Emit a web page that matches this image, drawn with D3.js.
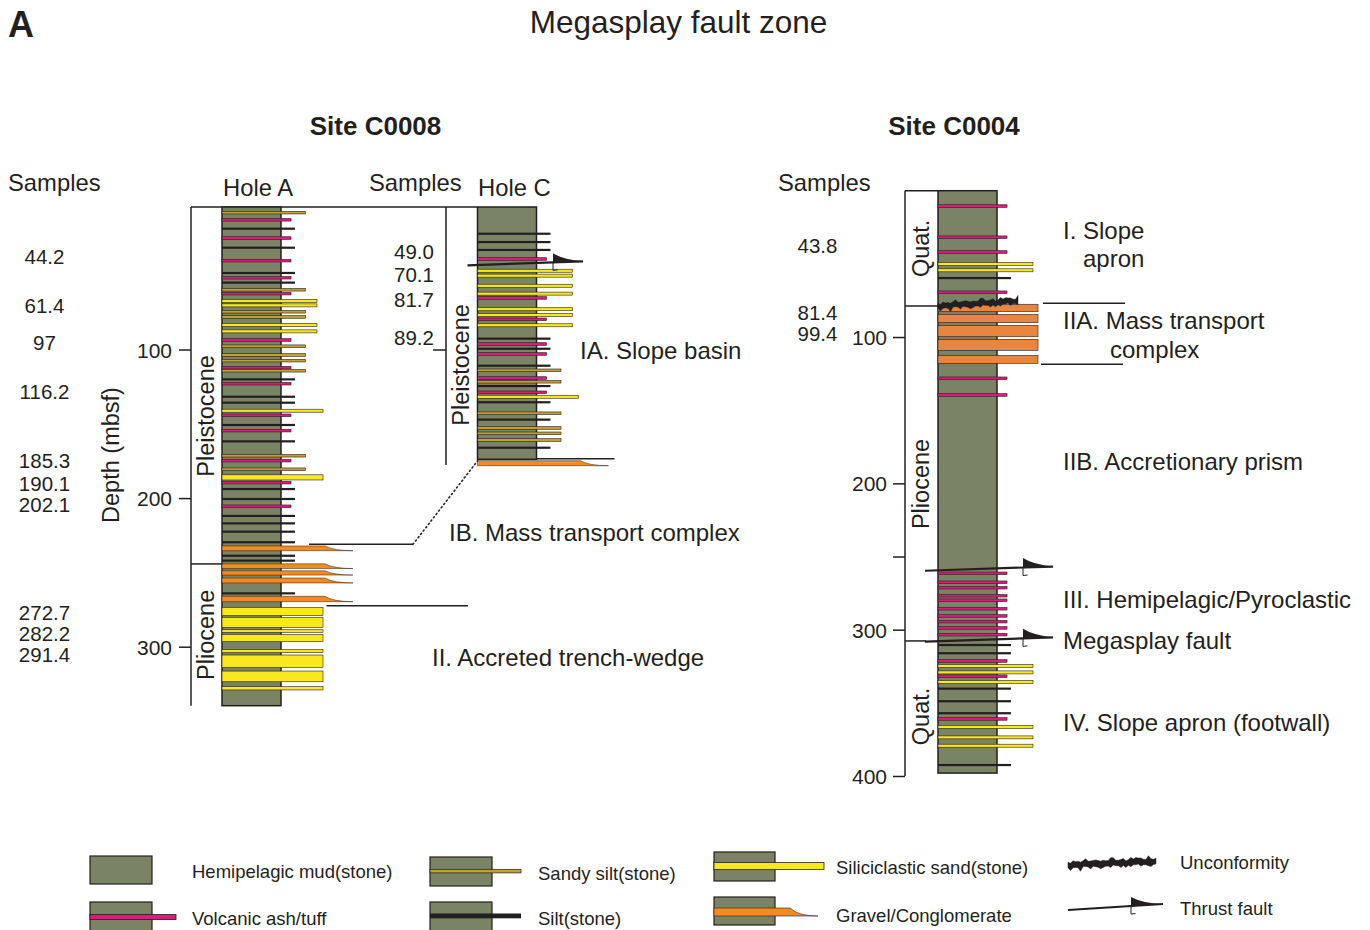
<!DOCTYPE html>
<html>
<head>
<meta charset="utf-8">
<script src="https://cdn.jsdelivr.net/npm/d3@7"></script>
<style>
  body { margin: 0; background: #fff; }
  svg { display: block; }
  text { font-family: "Liberation Sans", Arial, Helvetica, sans-serif; fill: #231f20; }
</style>
</head>
<body>
<script>
// ---------------------------------------------------------------------------
// Lithologic columns, Megasplay fault zone (Sites C0008 and C0004)
// Thin beds: [depth m, lithology]; thick beds: [top m, base m, lithology]
// ---------------------------------------------------------------------------
const holeA_interval = [4.1, 339.7];
const holeA_beds = [
  [7.9, 'sandySilt'], [12.7, 'ash'], [18.7, 'silt'], [25.0, 'ash'], [31.5, 'silt'],
  [40.2, 'ash'], [48.5, 'silt'], [51.7, 'ash'], [55.0, 'silt'], [59.8, 'sandySilt'],
  [62.4, 'ash'], [67.4, 'sand'], [70.3, 'sand'], [74.6, 'sandySilt'], [78.1, 'sandySilt'],
  [83.5, 'sand'], [87.8, 'sand'], [93.6, 'ash'], [97.8, 'sandySilt'], [103.7, 'sandySilt'],
  [107.5, 'sandySilt'], [112.2, 'ash'], [114.3, 'sandySilt'], [120.1, 'silt'], [123.0, 'ash'],
  [131.8, 'silt'], [135.8, 'silt'], [141.2, 'sandCoarse'], [144.3, 'ash'], [150.8, 'silt'],
  [154.6, 'ash'], [161.8, 'silt'], [171.5, 'sandySilt'], [174.8, 'ash'], [180.6, 'sandySilt'],
  [184.3, 187.8, 'sandCoarse'], [189.6, 'ash'], [193.9, 'silt'], [200.6, 'silt'], [205.5, 'ash'],
  [212.0, 'silt'], [217.0, 'silt'], [222.6, 'silt'], [229.7, 'silt'],
  [232.2, 235.4, 'gravel'], [238.8, 'silt'], [242.1, 'silt'],
  [244.2, 247.4, 'gravel'], [248.9, 251.8, 'gravel'], [253.8, 257.1, 'gravel'],
  [264.1, 'silt'], [266.1, 269.7, 'gravel'],
  [273.5, 279.1, 'sandCoarse'], [280.2, 287.0, 'sandCoarse'], [288.6, 290.3, 'sandCoarse'],
  [291.7, 296.6, 'sandCoarse'], [302.0, 304.0, 'sandCoarse'], [305.6, 313.9, 'sandCoarse'],
  [316.4, 323.6, 'sandCoarse'], [326.9, 329.1, 'sandCoarse']
];

const holeC_interval = [4.1, 173.9];
const holeC_beds = [
  [22.1, 'silt'], [27.7, 'silt'], [33.0, 'silt'], [39.1, 'ash'], [47.0, 'sand'],
  [50.3, 'sand'], [57.1, 'sand'], [62.4, 'sand'], [65.3, 'ash'], [72.9, 'sand'],
  [76.8, 'sand'], [79.7, 'ash'], [83.7, 'sand'], [92.7, 'silt'], [96.3, 'ash'],
  [99.5, 'silt'], [103.0, 'ash'], [110.9, 'silt'], [114.0, 'sandySilt'], [119.2, 'ash'],
  [121.7, 'sandySilt'], [124.6, 'silt'], [128.8, 'ash'], [131.8, 'sandCoarse'], [135.5, 'silt'],
  [142.9, 'sandySilt'], [147.2, 'silt'], [152.8, 'sandySilt'], [156.4, 'sandySilt'],
  [160.9, 'sandySilt'], [166.1, 'silt'], [174.8, 178.2, 'gravel']
];

const c0004_interval = [0, 398];
const c0004_beds = [
  [10.5, 'ash'], [31.8, 'ash'], [41.9, 'ash'], [50.1, 'sand'], [54.4, 'sand'],
  [59.7, 'silt'], [69.4, 'ash'],
  [77.6, 82.7, 'mtc'], [84.5, 90.2, 'mtc'], [92.0, 99.8, 'mtc'], [101.6, 109.1, 'mtc'], [112.5, 118.0, 'mtc'],
  [128.2, 'ash'], [139.6, 'ash'],
  [261.5, 'ash'], [267.6, 'ash'], [271.3, 'ash'], [276.8, 'ash'], [279.9, 'ash'],
  [285.7, 'ash'], [290.6, 'ash'], [294.5, 'ash'], [298.8, 'ash'], [303.4, 'ash'],
  [310.5, 'silt'], [316.1, 'silt'], [321.4, 'ash'], [324.8, 'sand'], [329.2, 'sand'],
  [331.8, 'ash'], [335.7, 'sand'], [340.3, 'silt'], [348.9, 'silt'], [357.1, 'silt'],
  [361.0, 'ash'], [366.5, 'sand'], [372.6, 374.6, 'sand'], [379.3, 'sand'], [392.5, 'silt']
];

// Sample depths (mbsf)
const holeA_samples = ['44.2', '61.4', '97', '116.2', '185.3', '190.1', '202.1', '272.7', '282.2', '291.4'];
const holeC_samples = ['49.0', '70.1', '81.7', '89.2'];
const c0004_samples = ['43.8', '81.4', '99.4'];

// Depth ticks
const holeA_ticks = [100, 200, 300];
const holeC_ticks = [100];
const c0004_ticks = [100, 200, 250, 300, 400];

// Epoch intervals [top, base, name]
const holeA_epochs = [[4.1, 244.3, 'Pleistocene'], [244.3, 339.7, 'Pliocene']];
const holeC_epochs = [[4.1, 177.7, 'Pleistocene']];
const c0004_epochs = [[0, 78.8, 'Quat.'], [78.8, 307.7, 'Pliocene'], [307.7, 400, 'Quat.']];

// Structural features (depth at the column, m)
const holeC_faults = [42.0];
const c0004_faults = [258.3, 306.7];
const c0004_unconformity = [78.8, 75.2];
const holeA_unitTops = { IB: 231.1, II: 272.4 };
const holeC_IBtop = 173.6;
const c0004_IIA = [77.0, 118.6];

// Legend entries
const legendItems = [
  'Hemipelagic mud(stone)', 'Volcanic ash/tuff', 'Sandy silt(stone)', 'Silt(stone)',
  'Siliciclastic sand(stone)', 'Gravel/Conglomerate', 'Unconformity', 'Thrust fault'
];

// ---------------------------------------------------------------------------
const W = 1370, H = 930;
const INK = '#231f20';
const MUD = '#7a8364';
const FILL = { ash: '#e2197d', silt: INK, sandySilt: '#c4a033', sand: '#f9e81e',
               sandCoarse: '#f9e81e', gravel: '#f58a1f', mtc: '#e8853f' };
const EXT = { ash: 10, silt: 14, sandySilt: 24.5, sand: 36, sandCoarse: 42, gravel: 44, mtc: 41 };
const THIN = { ash: 2.6, silt: 2.2, sandySilt: 2.6, sand: 3.0, sandCoarse: 3.0 };
const TAPER = 28;
const COL_W = 59;
const FONT = '"Liberation Sans", Arial, Helvetica, sans-serif';

const svg = d3.select('body').append('svg').attr('width', W).attr('height', H);

// Depth scales
const yC8 = d3.scaleLinear().domain([0, 300]).range([200.9, 646.7]);   // Site C0008 (Holes A and C)
const yC4 = d3.scaleLinear().domain([0, 400]).range([190.7, 776]);     // Site C0004

const xA = 222, xC = 477.5, xD = 938;

function gravelPath(x0, xr, y0, y1) {
  return `M${x0},${y0}L${xr},${y0}Q${xr + TAPER * 0.3},${y1} ${xr + TAPER},${y1}L${x0},${y1}Z`;
}

function drawColumn(g, x, y, interval, beds) {
  g.append('rect')
    .attr('x', x).attr('y', y(interval[0]))
    .attr('width', COL_W).attr('height', y(interval[1]) - y(interval[0]))
    .attr('fill', MUD).attr('stroke', INK).attr('stroke-width', 1.5);
  beds.forEach(b => {
    const lith = b[b.length - 1];
    let y0, y1;
    if (b.length === 2) { const c = y(b[0]); y0 = c - THIN[lith] / 2; y1 = c + THIN[lith] / 2; }
    else { y0 = y(b[0]); y1 = y(b[1]); }
    const xr = x + COL_W + EXT[lith];
    if (lith === 'gravel') {
      g.append('path').attr('d', gravelPath(x, xr, y0, y1))
        .attr('fill', FILL.gravel).attr('stroke', INK).attr('stroke-width', 0.5);
    } else if (lith === 'silt') {
      g.append('rect').attr('x', x).attr('y', y0).attr('width', xr - x).attr('height', y1 - y0)
        .attr('fill', INK);
    } else {
      g.append('rect').attr('x', x).attr('y', y0).attr('width', xr - x).attr('height', y1 - y0)
        .attr('fill', FILL[lith]).attr('stroke', INK).attr('stroke-width', 0.6);
    }
  });
}

function line(g, x1, y1, x2, y2, w = 1.5, dash = null) {
  const l = g.append('line').attr('x1', x1).attr('y1', y1).attr('x2', x2).attr('y2', y2)
    .attr('stroke', INK).attr('stroke-width', w);
  if (dash) l.attr('stroke-dasharray', dash).attr('stroke-linecap', 'round');
  return l;
}

function thrust(g, x0, y0, x1, y1, flagX, flagH = 9) {
  const yAt = xx => y0 + (y1 - y0) * (xx - x0) / (x1 - x0);
  g.append('line').attr('x1', x0).attr('y1', y0).attr('x2', x1).attr('y2', y1)
    .attr('stroke', INK).attr('stroke-width', 2.2);
  const fy = yAt(flagX);
  g.append('path')
    .attr('d', `M${flagX},${fy + 0.5}L${flagX},${fy - flagH}Q${flagX + (x1 - flagX) * 0.35},${fy - flagH * 0.3} ${x1},${y1}Z`)
    .attr('fill', INK);
  g.append('path')
    .attr('d', `M${flagX},${fy}L${flagX},${fy + 8}L${flagX + 4.5},${fy + 7.5}`)
    .attr('fill', 'none').attr('stroke', INK).attr('stroke-width', 1);
}

function unconformity(g, x0, y0, x1, y1, half = 2.4) {
  const n = Math.round((x1 - x0) / 2.5);
  const top = [], bot = [];
  for (let i = 0; i <= n; i++) {
    const t = i / n, xx = x0 + (x1 - x0) * t, yc = y0 + (y1 - y0) * t;
    const wob = Math.sin(i * 1.7) * 0.7 + Math.sin(i * 0.63) * 0.6;
    top.push([xx, yc - half + wob - (i % 5 === 2 ? 1.6 : 0) - (i % 7 === 4 ? 1.2 : 0)]);
    bot.push([xx, yc + half + wob * 0.6 + (i % 4 === 1 ? 2.2 : 0) + (i % 9 === 5 ? 1.5 : 0)]);
  }
  g.append('path').attr('d', d3.line()(top.concat(bot.reverse())) + 'Z')
    .attr('fill', INK).attr('stroke', INK).attr('stroke-width', 0.5);
}

function text(g, str, x, y, size, opts = {}) {
  const t = g.append('text').attr('x', x).attr('y', y).text(str)
    .style('font-size', size + 'px')
    .attr('text-anchor', opts.anchor || 'start');
  if (opts.bold) t.style('font-weight', 'bold');
  if (opts.rotate) t.attr('transform', `rotate(-90,${x},${y})`);
  return t;
}

function depthAxis(g, x, y, ticks, size, pad, labelled = true) {
  const ax = d3.axisLeft(y).tickValues(ticks).tickSize(size).tickPadding(pad)
    .tickFormat(d => (labelled && d % 100 === 0) ? d : '');
  const a = g.append('g').attr('transform', `translate(${x},0)`).call(ax);
  a.select('.domain').remove();
  a.selectAll('line').attr('stroke', INK).attr('stroke-width', 1.5);
  a.selectAll('text').style('font-size', '21px').style('font-family', FONT).attr('fill', INK)
    .attr('dy', '0.36em');
}

// ---------------------------------------------------------------------------
// Headings
text(svg, 'A', 8, 37, 36, { bold: true });
text(svg, 'Megasplay fault zone', 678.5, 33, 31.5, { anchor: 'middle' });
text(svg, 'Site C0008', 375.5, 135, 26, { anchor: 'middle', bold: true });
text(svg, 'Site C0004', 954, 135, 26, { anchor: 'middle', bold: true });

// ---------------------------------------------------------------------------
// Site C0008
const g8 = svg.append('g');
text(g8, 'Samples', 8, 191, 23.8);
text(g8, 'Samples', 369, 191, 23.8);
text(g8, 'Hole A', xA + 1, 196, 23.8);
text(g8, 'Hole C', xC + 0.5, 196, 23.8);
text(g8, 'Depth (mbsf)', 119, 455, 23.5, { anchor: 'middle', rotate: true });

// Sample label offsets keep the stacked labels legible
const holeA_labelShift = [-9.6, 13.9, -2, 18.4, -15.3, 0.6, 3.8, 6.4, 13.3, 20.6];
holeA_samples.forEach((s, i) => text(g8, s, 44.5, yC8(+s) + holeA_labelShift[i] + 7.3, 20.5, { anchor: 'middle' }));
const holeC_labelShift = [-21.7, -30.1, -22.3, 4.5];
holeC_samples.forEach((s, i) => text(g8, s, 414, yC8(+s) + holeC_labelShift[i] + 7.3, 20.5, { anchor: 'middle' }));

// Brackets / axes
const bxA = 191, bxC = 446;
line(g8, bxA, yC8(holeA_interval[0]), bxA, yC8(holeA_interval[1]));
line(g8, bxA, yC8(holeA_interval[0]), xC, yC8(holeA_interval[0]));
line(g8, bxA, yC8(holeA_epochs[1][0]), xA, yC8(holeA_epochs[1][0]));
line(g8, bxC, yC8(holeC_epochs[0][0]), bxC, yC8(holeC_epochs[0][1]));
depthAxis(g8, bxA, yC8, holeA_ticks, 12, 7);
depthAxis(g8, bxC, yC8, holeC_ticks, 13, 7, false);

const holeA_epochShift = [30.5, 0];
holeA_epochs.forEach((e, i) =>
  text(g8, e[2], 214, (yC8(e[0]) + yC8(e[1])) / 2 + holeA_epochShift[i], 23.5, { anchor: 'middle', rotate: true }));
text(g8, holeC_epochs[0][2], 469, (yC8(holeC_epochs[0][0]) + yC8(holeC_epochs[0][1])) / 2 + 29, 23.5,
  { anchor: 'middle', rotate: true });

drawColumn(g8, xA, yC8, holeA_interval, holeA_beds);
drawColumn(g8, xC, yC8, holeC_interval, holeC_beds);

// Unit boundaries and correlation
const yIB = yC8(holeA_unitTops.IB);
line(g8, xA + COL_W + 28, yIB, 413, yIB);
line(g8, 413, yIB, xC, yC8(holeC_IBtop) + 2, 1.6, '1.2,3');
line(g8, xC + COL_W, yC8(holeC_IBtop), xC + COL_W + 78, yC8(holeC_IBtop));
line(g8, xA + COL_W + 45.5, yC8(holeA_unitTops.II), 468, yC8(holeA_unitTops.II));

holeC_faults.forEach(d => {
  const yy = yC8(d);
  thrust(g8, xC - 10, yy + 2, xC + COL_W + 46.5, yy - 2, xC + COL_W + 16.5, 9);
});

text(g8, 'IA. Slope basin', 580, 358.5, 24);
text(g8, 'IB. Mass transport complex', 449, 540.5, 24);
text(g8, 'II. Accreted trench-wedge', 432, 665.5, 24);

// ---------------------------------------------------------------------------
// Site C0004
const g4 = svg.append('g');
text(g4, 'Samples', 778, 191, 23.8);
const c0004_labelShift = [-8.8, 2.7, -2.2];
c0004_samples.forEach((s, i) => text(g4, s, 817.5, yC4(+s) + c0004_labelShift[i] + 7.3, 20.5, { anchor: 'middle' }));

const bxD = 905;
line(g4, bxD, yC4(0), bxD, yC4(400));
line(g4, bxD, yC4(0), xD, yC4(0));
line(g4, bxD, yC4(c0004_epochs[1][0]), xD, yC4(c0004_epochs[1][0]));
line(g4, bxD, yC4(c0004_epochs[2][0]), xD - 12, yC4(c0004_epochs[2][0]));
depthAxis(g4, bxD, yC4, c0004_ticks, 12, 6);

const c0004_epochShift = [0, 10.5, 8];
c0004_epochs.forEach((e, i) =>
  text(g4, e[2], 929.5, (yC4(e[0]) + yC4(e[1])) / 2 + c0004_epochShift[i], 23.5, { anchor: 'middle', rotate: true }));

drawColumn(g4, xD, yC4, c0004_interval, c0004_beds);
unconformity(g4, xD, yC4(c0004_unconformity[0]), xD + 80, yC4(c0004_unconformity[1]));

line(g4, xD + COL_W + 46, yC4(c0004_IIA[0]), 1125, yC4(c0004_IIA[0]));
line(g4, xD + COL_W + 44, yC4(c0004_IIA[1]), 1123, yC4(c0004_IIA[1]));

c0004_faults.forEach(d => {
  const yy = yC4(d);
  thrust(g4, xD - 13, yy + 2.1, xD + COL_W + 56, yy - 2.1, xD + COL_W + 26, 9.5);
});

text(g4, 'I. Slope', 1063, 238.5, 24);
text(g4, 'apron', 1083, 267, 24);
text(g4, 'IIA. Mass transport', 1063, 328.5, 24);
text(g4, 'complex', 1110, 358, 24);
text(g4, 'IIB. Accretionary prism', 1063, 469.5, 24);
text(g4, 'III. Hemipelagic/Pyroclastic', 1063, 607.5, 24);
text(g4, 'Megasplay fault', 1063, 648.5, 24);
text(g4, 'IV. Slope apron (footwall)', 1063, 730.5, 24);

// ---------------------------------------------------------------------------
// Legend
const lg = svg.append('g');
function mudBox(x, y, w, h) {
  lg.append('rect').attr('x', x).attr('y', y).attr('width', w).attr('height', h)
    .attr('fill', MUD).attr('stroke', INK).attr('stroke-width', 1.2);
}
// mud
mudBox(90, 856, 62, 28);
// ash
mudBox(90, 902, 62, 30);
lg.append('rect').attr('x', 90).attr('y', 914.5).attr('width', 86).attr('height', 5)
  .attr('fill', FILL.ash).attr('stroke', INK).attr('stroke-width', 0.8);
// sandy silt
mudBox(430, 857, 62, 29);
lg.append('rect').attr('x', 430).attr('y', 869.3).attr('width', 91).attr('height', 3.6)
  .attr('fill', FILL.sandySilt).attr('stroke', INK).attr('stroke-width', 0.7);
// silt
mudBox(430, 902, 62, 30);
lg.append('rect').attr('x', 430).attr('y', 913.5).attr('width', 91).attr('height', 4.8).attr('fill', INK);
// sand
mudBox(714, 852, 61, 29);
lg.append('rect').attr('x', 714).attr('y', 862.5).attr('width', 110).attr('height', 7)
  .attr('fill', FILL.sand).attr('stroke', INK).attr('stroke-width', 0.8);
// gravel
mudBox(714, 897, 61, 28);
lg.append('path').attr('d', `M714,908L790,908Q798,916 818,916L714,916Z`)
  .attr('fill', FILL.gravel).attr('stroke', INK).attr('stroke-width', 0.6);
// unconformity
unconformity(lg, 1068, 865, 1156, 861, 2.8);
// thrust
thrust(lg, 1068, 910, 1163, 904, 1131, 9);

const legendPos = [[192, 877.5], [192, 924.5], [538, 879.5], [538, 924.5],
                   [836, 873.5], [836, 921.5], [1180, 868.5], [1180, 914.5]];
legendItems.forEach((s, i) => text(lg, s, legendPos[i][0], legendPos[i][1], 18.5));
</script>
</body>
</html>
